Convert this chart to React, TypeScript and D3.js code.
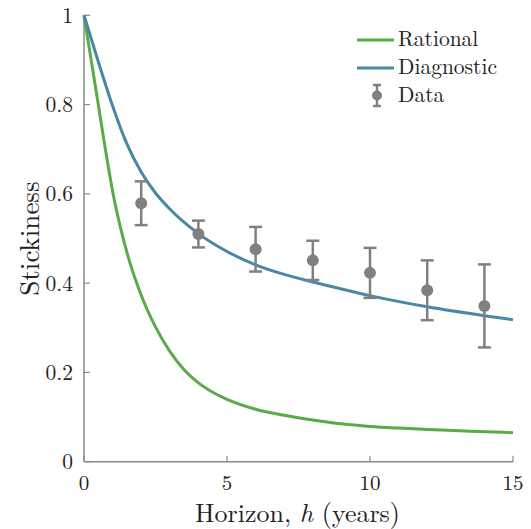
import React from "react";
import * as d3 from "d3";

const rationalHorizon = [0, 0.25, 0.5, 0.75, 1, 1.5, 2, 2.5, 3, 3.5, 4, 4.5, 5, 6, 7, 8, 9, 10, 11, 12, 13.5, 15];
const rationalValues = [1, 0.9, 0.8, 0.699, 0.606, 0.469, 0.373, 0.302, 0.247, 0.206, 0.1765, 0.1555, 0.1395, 0.1175, 0.104, 0.0935, 0.0848, 0.079, 0.0753, 0.0724, 0.068, 0.065];

const diagnosticHorizon = [0, 0.5, 1, 1.5, 2, 2.5, 3, 4, 5, 6, 7, 8, 9, 10, 12, 14, 15];
const diagnosticValues = [1, 0.896, 0.797, 0.712, 0.649, 0.602, 0.566, 0.511, 0.471, 0.441, 0.4195, 0.4025, 0.387, 0.372, 0.347, 0.327, 0.318];

const dataHorizon = [2, 4, 6, 8, 10, 12, 14];
const dataMean = [0.579, 0.51, 0.476, 0.451, 0.423, 0.384, 0.349];
const dataErr = [0.049, 0.03, 0.05, 0.044, 0.056, 0.067, 0.093];

const xTicks = [0, 5, 10, 15];
const yTicks = [0, 0.2, 0.4, 0.6, 0.8, 1];
const yTickLabels = ["0", "0.2", "0.4", "0.6", "0.8", "1"];
const legendLabels = ["Rational", "Diagnostic", "Data"];

const GREEN = "#5aaa48";
const BLUE = "#4a86a8";
const GRAY = "#808080";
const AXIS = "#8a8a8a";
const FONT = '"Latin Modern Roman", "Liberation Serif"';
const INK = "#222";

export default function App() {
  const x = d3.scaleLinear().domain([0, 15]).range([84, 513]);
  const y = d3.scaleLinear().domain([0, 1]).range([461.7, 15.3]);

  const makeLine = (hs: number[]) =>
    d3
      .line<number>()
      .x((_, i) => x(hs[i]))
      .y((d) => y(d))
      .curve(d3.curveMonotoneX);

  const capW = 6.5;
  const tickLen = 6;

  return (
    <svg width={531} height={529} style={{ position: "absolute", left: 0, top: 0, background: "#fff" }}>
      {/* axes */}
      <line x1={x(0)} x2={x(0)} y1={y(0)} y2={y(1)} stroke={AXIS} strokeWidth={1.5} />
      <line x1={x(0)} x2={x(15)} y1={y(0)} y2={y(0)} stroke={AXIS} strokeWidth={1.5} />
      {yTicks.map((t, i) => (
        <g key={"yt" + i}>
          <line x1={x(0)} x2={x(0) + tickLen} y1={y(t)} y2={y(t)} stroke={AXIS} strokeWidth={1.2} />
          <text x={73} y={y(t)} dy="0.35em" textAnchor="end" fontSize={21.5} fontFamily={FONT} fill={INK}>
            {yTickLabels[i]}
          </text>
        </g>
      ))}
      {xTicks.map((t, i) => (
        <g key={"xt" + i}>
          <line x1={x(t)} x2={x(t)} y1={y(0)} y2={y(0) - tickLen} stroke={AXIS} strokeWidth={1.2} />
          <text x={x(t)} y={489.5} textAnchor="middle" fontSize={21} fontFamily={FONT} fill={INK}>
            {String(t)}
          </text>
        </g>
      ))}

      {/* axis titles */}
      <text x={(x(0) + x(15)) / 2 - 1} y={522} textAnchor="middle" fontSize={26} fontFamily={FONT} fill={INK}>
        Horizon, <tspan fontStyle="italic">h</tspan> (years)
      </text>
      <text
        transform={`translate(38.5, ${(y(0) + y(1)) / 2}) rotate(-90)`}
        textAnchor="middle"
        fontSize={27}
        fontFamily={FONT}
        fill={INK}
      >
        Stickiness
      </text>

      {/* curves */}
      <path d={makeLine(rationalHorizon)(rationalValues) || ""} fill="none" stroke={GREEN} strokeWidth={3} />
      <path d={makeLine(diagnosticHorizon)(diagnosticValues) || ""} fill="none" stroke={BLUE} strokeWidth={3} />

      {/* data with error bars */}
      {dataHorizon.map((h, i) => {
        const cx = x(h);
        const lo = y(dataMean[i] - dataErr[i]);
        const hi = y(dataMean[i] + dataErr[i]);
        return (
          <g key={"d" + i}>
            <line x1={cx} x2={cx} y1={lo} y2={hi} stroke={GRAY} strokeWidth={2.5} />
            <line x1={cx - capW} x2={cx + capW} y1={lo} y2={lo} stroke={GRAY} strokeWidth={2.5} />
            <line x1={cx - capW} x2={cx + capW} y1={hi} y2={hi} stroke={GRAY} strokeWidth={2.5} />
            <circle cx={cx} cy={y(dataMean[i])} r={6} fill={GRAY} />
          </g>
        );
      })}

      {/* legend */}
      <g>
        <line x1={357} x2={394} y1={40} y2={40} stroke={GREEN} strokeWidth={3} />
        <line x1={357} x2={394} y1={68} y2={68} stroke={BLUE} strokeWidth={3} />
        <line x1={377} x2={377} y1={85} y2={106} stroke={GRAY} strokeWidth={2.5} />
        <line x1={373} x2={381} y1={85} y2={85} stroke={GRAY} strokeWidth={2.5} />
        <line x1={373} x2={381} y1={106} y2={106} stroke={GRAY} strokeWidth={2.5} />
        <circle cx={377} cy={95.5} r={5} fill={GRAY} />
        {legendLabels.map((l, i) => (
          <text key={l} x={398} y={46 + i * 28} fontSize={21.5} fontFamily={FONT} fill={INK}>
            {l}
          </text>
        ))}
      </g>
    </svg>
  );
}
